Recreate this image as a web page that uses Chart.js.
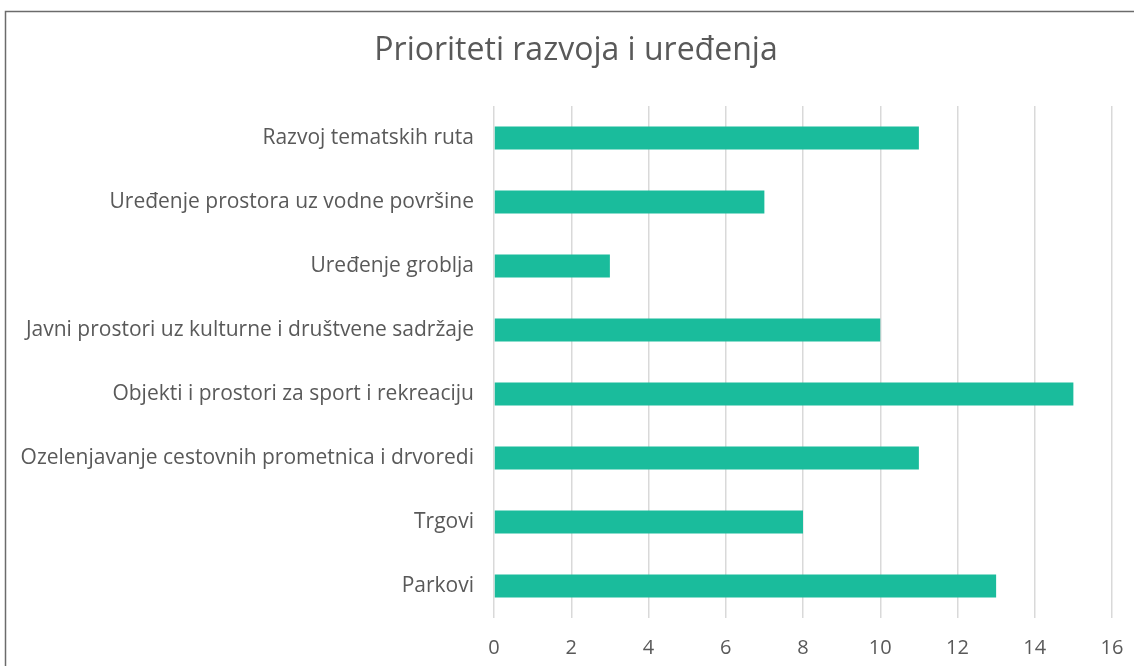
<!DOCTYPE html>
<html>
<head>
<meta charset="utf-8">
<script src="https://cdn.jsdelivr.net/npm/chart.js@4"></script>
<style>
  html, body { margin: 0; padding: 0; background: #fff; overflow: hidden; }
  #wrap { position: relative; width: 1134px; height: 666px; }
  canvas { display: block; }
</style>
</head>
<body>
<div id="wrap"><canvas id="chart" width="1134" height="666"></canvas></div>
<script>
// podaci
const naslov = 'Prioriteti razvoja i uređenja';
const kategorije = [
    'Razvoj tematskih ruta',
    'Uređenje prostora uz vodne površine',
    'Uređenje groblja',
    'Javni prostori uz kulturne i društvene sadržaje',
    'Objekti i prostori za sport i rekreaciju',
    'Ozelenjavanje cestovnih prometnica i drvoredi',
    'Trgovi',
    'Parkovi'
];
const vrijednosti = [11, 7, 3, 10, 15, 11, 8, 13];
const osX = { min: 0, max: 16, korak: 2 };

const sivaTekst = '#595959';

// okvir oko grafikona
const okvir = {
    id: 'okvir',
    beforeDraw(chart) {
        const ctx = chart.ctx;
        ctx.save();
        ctx.fillStyle = '#fff';
        ctx.fillRect(0, 0, chart.width, chart.height);
        ctx.strokeStyle = '#6b6b6b';
        ctx.lineWidth = 1.5;
        ctx.strokeRect(5.5, 11.5, chart.width + 20, chart.height + 20);
        ctx.restore();
    }
};

// naslov (original je centriran na širi okvir)
const naslovPlugin = {
    id: 'naslovPlugin',
    afterDraw(chart) {
        const ctx = chart.ctx;
        ctx.save();
        ctx.fillStyle = sivaTekst;
        ctx.font = '32px "Open Sans"';
        ctx.textAlign = 'center';
        ctx.textBaseline = 'middle';
        ctx.fillText(naslov, 576, 51);
        ctx.restore();
    }
};

const ctx = document.getElementById('chart').getContext('2d');
new Chart(ctx, {
    type: 'bar',
    data: {
        labels: kategorije,
        datasets: [{
            data: vrijednosti,
            backgroundColor: '#1ABC9C',
            borderWidth: 0,
            barPercentage: 0.72,
            categoryPercentage: 0.5
        }]
    },
    options: {
        indexAxis: 'y',
        responsive: false,
        animation: false,
        layout: { padding: { top: 106, right: 22, bottom: 7, left: 0 } },
        plugins: {
            legend: { display: false },
            tooltip: { enabled: false },
            title: { display: false }
        },
        scales: {
            x: {
                min: osX.min,
                max: osX.max,
                ticks: {
                    stepSize: osX.korak,
                    color: sivaTekst,
                    padding: 18,
                    maxRotation: 0,
                    font: { family: 'Open Sans', size: 20 }
                },
                grid: { color: '#d9d9d9', lineWidth: 1.5, drawTicks: false },
                border: { display: false },
                afterFit(scale) {
                    scale.height = 41;
                    scale.paddingRight = 0;
                }
            },
            y: {
                ticks: {
                    color: sivaTekst,
                    padding: 12,
                    font: { family: 'Open Sans', size: 21 }
                },
                grid: { display: false },
                border: { display: false },
                afterFit(scale) { scale.width = 494; }
            }
        }
    },
    plugins: [okvir, naslovPlugin]
});
</script>
</body>
</html>
